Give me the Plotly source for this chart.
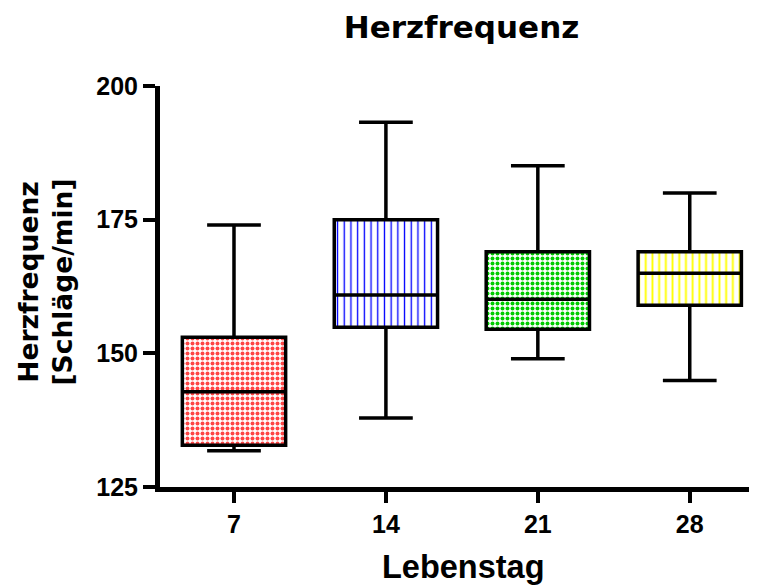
import plotly.graph_objects as go

# ---- data ----
days = ["7", "14", "21", "28"]
minimum = [131.8, 137.9, 149.0, 144.9]
q1 = [132.8, 154.9, 154.5, 159.0]
median = [142.8, 160.9, 160.1, 165.0]
q3 = [153.0, 175.0, 169.0, 169.0]
maximum = [174.0, 193.2, 185.1, 180.0]

fill_base = ["#ff4646", "#0000ff", "#00cc00", "#ffff00"]
fill_pattern = ["#ff9a9a", "#8c8cff", "#9cff9c", "#f2f2ae"]
pattern_shape = [".", "|", ".", "|"]

y_ticks = [125, 150, 175, 200]

title_text = "Herzfrequenz"
x_title = "Lebenstag"
y_title = "Herzfrequenz<br>[Schläge/min]"

BOXW = 0.68
FONT = "Liberation Sans, Arial, sans-serif"
WIDE = "DejaVu Sans, Liberation Sans, sans-serif"

# the page adds an 8px body margin; the figure is sized to fit the window
W, H = 752, 578

fig = go.Figure()

# patterned fill of each box (Q1..Q3)
fig.add_trace(go.Bar(
    x=days,
    y=[b - a for a, b in zip(q1, q3)],
    base=q1,
    width=BOXW,
    marker=dict(
        color=fill_base,
        line=dict(width=0),
        pattern=dict(
            shape=pattern_shape,
            fgcolor=fill_pattern,
            bgcolor=fill_base,
            size=[5, 6.7, 5, 6.7],
            solidity=[0.5, 0.2, 0.5, 0.28],
            fillmode="replace",
        ),
    ),
    hoverinfo="skip",
    showlegend=False,
))

# box outline, median and min-max whiskers
fig.add_trace(go.Box(
    x=days,
    q1=q1,
    median=median,
    q3=q3,
    lowerfence=minimum,
    upperfence=maximum,
    width=BOXW,
    whiskerwidth=0.52,
    fillcolor="rgba(0,0,0,0)",
    line=dict(color="black", width=3.5),
    boxpoints=False,
    showlegend=False,
))

fig.update_layout(
    width=W,
    height=H,
    margin=dict(l=152, r=11, t=78, b=99),
    paper_bgcolor="white",
    plot_bgcolor="white",
    boxmode="overlay",
    barmode="overlay",
    showlegend=False,
    font=dict(family=FONT, color="black", weight="bold"),
    title=dict(
        text=title_text,
        font=dict(family=WIDE, size=31, color="black", weight="bold"),
        x=453.5 / W, xref="container", xanchor="center",
        y=1 - 19 / H, yref="container", yanchor="middle",
    ),
    xaxis=dict(
        type="category",
        categoryorder="array",
        categoryarray=days,
        range=[-0.487, 3.39],
        showline=True, linewidth=5, linecolor="black",
        ticks="outside", ticklen=11, tickwidth=4, tickcolor="black",
        tickfont=dict(family=FONT, size=25, color="black", weight="bold"),
        showgrid=False, zeroline=False,
        fixedrange=True,
    ),
    yaxis=dict(
        range=[125, 200],
        tickvals=y_ticks,
        showline=True, linewidth=5, linecolor="black",
        ticks="outside", ticklen=12, tickwidth=4, tickcolor="black",
        tickfont=dict(family=FONT, size=25, color="black", weight="bold"),
        showgrid=False, zeroline=False,
        fixedrange=True,
    ),
    annotations=[
        dict(
            text=x_title, xref="paper", yref="paper",
            x=(463 - 160) / 589, y=-0.2,
            xanchor="center", yanchor="middle", showarrow=False,
            font=dict(family=FONT, size=32.5, color="black", weight="bold"),
        ),
        dict(
            text=y_title, xref="paper", yref="paper",
            x=(45 - 160) / 589, y=0.51, textangle=-90,
            xanchor="center", yanchor="middle", showarrow=False,
            font=dict(family=WIDE, size=26.5, color="black", weight="bold"),
        ),
    ],
)

fig.write_html("out.html", config={"displayModeBar": False})
